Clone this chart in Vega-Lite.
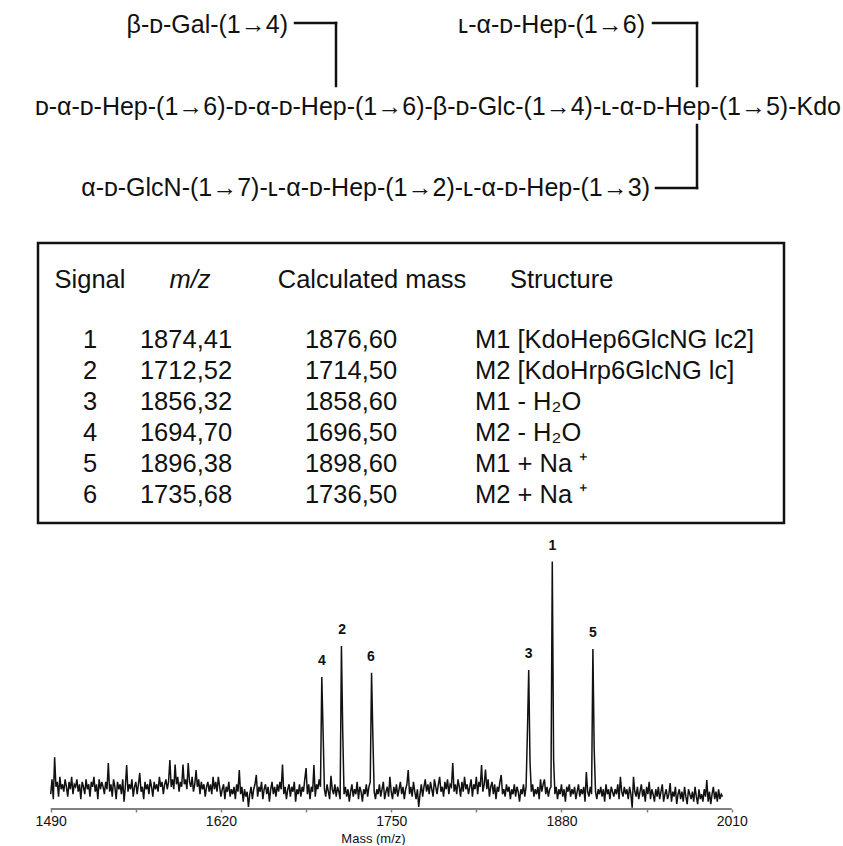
{
 "$schema": "https://vega.github.io/schema/vega-lite/v6.json",
 "padding": 0,
 "autosize": {"type": "pad"},
 "bounds": "flush",
 "spacing": 0,
 "background": "white",
 "config": {"view": {"stroke": null}, "text": {"font": "Liberation Sans", "color": "#111"}, "axis": {"labelFont": "Liberation Sans", "titleFont": "Liberation Sans"}},
 "datasets": {
  "one": [{}],
  "structure": [{"gal": "β-ᴅ-Gal-(1→4)", "hep": "ʟ-α-ᴅ-Hep-(1→6)", "main": "ᴅ-α-ᴅ-Hep-(1→6)-ᴅ-α-ᴅ-Hep-(1→6)-β-ᴅ-Glc-(1→4)-ʟ-α-ᴅ-Hep-(1→5)-Kdo", "glcn": "α-ᴅ-GlcN-(1→7)-ʟ-α-ᴅ-Hep-(1→2)-ʟ-α-ᴅ-Hep-(1→3)"}],
  "header": [{"c1": "Signal", "c2": "m/z", "c3": "Calculated mass", "c4": "Structure"}],
  "rows": [
   {"signal": 1, "mz": "1874,41", "mass": "1876,60", "structure": "M1 [KdoHep6GlcNG lc2]"},
   {"signal": 2, "mz": "1712,52", "mass": "1714,50", "structure": "M2 [KdoHrp6GlcNG lc]"},
   {"signal": 3, "mz": "1856,32", "mass": "1858,60", "structure": "M1  - H₂O"},
   {"signal": 4, "mz": "1694,70", "mass": "1696,50", "structure": "M2  - H₂O"},
   {"signal": 5, "mz": "1896,38", "mass": "1898,60", "structure": "M1 + Na ⁺"},
   {"signal": 6, "mz": "1735,68", "mass": "1736,50", "structure": "M2 + Na ⁺"}
  ],
  "peaks": [
   {"label": "1", "mz": 1873, "i": 100.2},
   {"label": "2", "mz": 1712.5, "i": 66},
   {"label": "3", "mz": 1855, "i": 56.3},
   {"label": "4", "mz": 1697, "i": 53.5},
   {"label": "5", "mz": 1904, "i": 64.8},
   {"label": "6", "mz": 1734.5, "i": 55.2}
  ],
  "baseline": [{"mz": 1490, "i": 0}, {"mz": 2010, "i": 0}],
  "spectrum": [
{"mz":1490,"i":6},{"mz":1491,"i":12},{"mz":1492,"i":4},{"mz":1493,"i":21},{"mz":1494,"i":9},{"mz":1495,"i":11},{"mz":1496,"i":5},{"mz":1497,"i":13},{"mz":1498,"i":8},{"mz":1499,"i":10},
{"mz":1500,"i":7},{"mz":1501,"i":12},{"mz":1502,"i":9},{"mz":1503,"i":5},{"mz":1504,"i":11},{"mz":1505,"i":8},{"mz":1506,"i":13},{"mz":1507,"i":6},{"mz":1508,"i":10},{"mz":1509,"i":9},
{"mz":1510,"i":12},{"mz":1511,"i":7},{"mz":1512,"i":10},{"mz":1513,"i":4},{"mz":1514,"i":11},{"mz":1515,"i":9},{"mz":1516,"i":6},{"mz":1517,"i":12},{"mz":1518,"i":8},{"mz":1519,"i":10},
{"mz":1520,"i":5},{"mz":1521,"i":11},{"mz":1522,"i":9},{"mz":1523,"i":13},{"mz":1524,"i":7},{"mz":1525,"i":10},{"mz":1526,"i":4},{"mz":1527,"i":12},{"mz":1528,"i":8},{"mz":1529,"i":11},
{"mz":1530,"i":9},{"mz":1531,"i":6},{"mz":1532,"i":11},{"mz":1533,"i":8},{"mz":1534,"i":18.6},{"mz":1535,"i":7},{"mz":1536,"i":10},{"mz":1537,"i":5},{"mz":1538,"i":12},{"mz":1539,"i":9},
{"mz":1540,"i":4},{"mz":1541,"i":11},{"mz":1542,"i":8},{"mz":1543,"i":10},{"mz":1544,"i":6},{"mz":1545,"i":12},{"mz":1546,"i":3},{"mz":1547,"i":9},{"mz":1548,"i":17.8},{"mz":1549,"i":7},
{"mz":1550,"i":10},{"mz":1551,"i":8},{"mz":1552,"i":12},{"mz":1553,"i":5},{"mz":1554,"i":9},{"mz":1555,"i":11},{"mz":1556,"i":6},{"mz":1557,"i":10},{"mz":1558,"i":14.6},{"mz":1559,"i":7},
{"mz":1560,"i":9},{"mz":1561,"i":4},{"mz":1562,"i":11},{"mz":1563,"i":8},{"mz":1564,"i":10},{"mz":1565,"i":6},{"mz":1566,"i":12},{"mz":1567,"i":9},{"mz":1568,"i":5},{"mz":1569,"i":11},
{"mz":1570,"i":8},{"mz":1571,"i":10},{"mz":1572,"i":7},{"mz":1573,"i":13},{"mz":1574,"i":9},{"mz":1575,"i":11},{"mz":1576,"i":6},{"mz":1577,"i":10},{"mz":1578,"i":12},{"mz":1579,"i":8},
{"mz":1580,"i":11},{"mz":1581,"i":19.8},{"mz":1582,"i":9},{"mz":1583,"i":12},{"mz":1584,"i":8},{"mz":1585,"i":18},{"mz":1586,"i":10},{"mz":1587,"i":13},{"mz":1588,"i":7},{"mz":1589,"i":11},
{"mz":1590,"i":9},{"mz":1591,"i":18},{"mz":1592,"i":10},{"mz":1593,"i":12},{"mz":1594,"i":8},{"mz":1595,"i":18.6},{"mz":1596,"i":11},{"mz":1597,"i":9},{"mz":1598,"i":13},{"mz":1599,"i":7},
{"mz":1600,"i":10},{"mz":1601,"i":15.8},{"mz":1602,"i":9},{"mz":1603,"i":12},{"mz":1604,"i":6},{"mz":1605,"i":11},{"mz":1606,"i":8},{"mz":1607,"i":10},{"mz":1608,"i":5},{"mz":1609,"i":9},
{"mz":1610,"i":11},{"mz":1611,"i":7},{"mz":1612,"i":10},{"mz":1613,"i":6},{"mz":1614,"i":13},{"mz":1615,"i":8},{"mz":1616,"i":11},{"mz":1617,"i":7},{"mz":1618,"i":13},{"mz":1619,"i":9},
{"mz":1620,"i":5},{"mz":1621,"i":8},{"mz":1622,"i":10},{"mz":1623,"i":4},{"mz":1624,"i":9},{"mz":1625,"i":7},{"mz":1626,"i":11},{"mz":1627,"i":5},{"mz":1628,"i":8},{"mz":1629,"i":6},
{"mz":1630,"i":9},{"mz":1631,"i":4},{"mz":1632,"i":10},{"mz":1633,"i":7},{"mz":1634,"i":15.8},{"mz":1635,"i":6},{"mz":1636,"i":9},{"mz":1637,"i":3},{"mz":1638,"i":8},{"mz":1639,"i":5},
{"mz":1640,"i":7},{"mz":1641,"i":0.8},{"mz":1642,"i":6},{"mz":1643,"i":9},{"mz":1644,"i":4},{"mz":1645,"i":8},{"mz":1646,"i":10},{"mz":1647,"i":13.8},{"mz":1648,"i":5},{"mz":1649,"i":9},
{"mz":1650,"i":7},{"mz":1651,"i":11},{"mz":1652,"i":4},{"mz":1653,"i":8},{"mz":1654,"i":10},{"mz":1655,"i":6},{"mz":1656,"i":9},{"mz":1657,"i":3},{"mz":1658,"i":8},{"mz":1659,"i":11},
{"mz":1660,"i":6},{"mz":1661,"i":9},{"mz":1662,"i":5},{"mz":1663,"i":10},{"mz":1664,"i":7},{"mz":1665,"i":11},{"mz":1666,"i":8},{"mz":1667,"i":18},{"mz":1668,"i":6},{"mz":1669,"i":9},
{"mz":1670,"i":4},{"mz":1671,"i":8},{"mz":1672,"i":10},{"mz":1673,"i":5},{"mz":1674,"i":9},{"mz":1675,"i":7},{"mz":1676,"i":11},{"mz":1677,"i":3},{"mz":1678,"i":8},{"mz":1679,"i":6},
{"mz":1680,"i":10},{"mz":1681,"i":5},{"mz":1682,"i":9},{"mz":1683,"i":7},{"mz":1684,"i":12},{"mz":1685,"i":16.6},{"mz":1686,"i":6},{"mz":1687,"i":10},{"mz":1688,"i":4},{"mz":1689,"i":9},
{"mz":1690,"i":7},{"mz":1691,"i":17.8},{"mz":1692,"i":5},{"mz":1693,"i":10},{"mz":1694,"i":8},{"mz":1695,"i":12},{"mz":1696,"i":9},{"mz":1697,"i":53.5},{"mz":1698,"i":31},{"mz":1699,"i":8},
{"mz":1700,"i":5},{"mz":1701,"i":10},{"mz":1702,"i":7},{"mz":1703,"i":4},{"mz":1704,"i":13.4},{"mz":1705,"i":8},{"mz":1706,"i":6},{"mz":1707,"i":10},{"mz":1708,"i":5},{"mz":1709,"i":9},
{"mz":1710,"i":7},{"mz":1711,"i":4},{"mz":1712,"i":66},{"mz":1713,"i":31},{"mz":1714,"i":6},{"mz":1715,"i":9},{"mz":1716,"i":5},{"mz":1717,"i":8},{"mz":1718,"i":3},{"mz":1719,"i":7},
{"mz":1720,"i":10},{"mz":1721,"i":5},{"mz":1722,"i":8},{"mz":1723,"i":6},{"mz":1724,"i":11},{"mz":1725,"i":4},{"mz":1726,"i":9},{"mz":1727,"i":7},{"mz":1728,"i":3},{"mz":1729,"i":8},
{"mz":1730,"i":6},{"mz":1731,"i":10},{"mz":1732,"i":5},{"mz":1733,"i":9},{"mz":1734,"i":11},{"mz":1735,"i":55.2},{"mz":1736,"i":29.5},{"mz":1737,"i":7},{"mz":1738,"i":4},{"mz":1739,"i":8},
{"mz":1740,"i":6},{"mz":1741,"i":10},{"mz":1742,"i":5},{"mz":1743,"i":8},{"mz":1744,"i":11},{"mz":1745,"i":4},{"mz":1746,"i":7},{"mz":1747,"i":9},{"mz":1748,"i":5},{"mz":1749,"i":13},
{"mz":1750,"i":7},{"mz":1751,"i":4},{"mz":1752,"i":9},{"mz":1753,"i":6},{"mz":1754,"i":10},{"mz":1755,"i":5},{"mz":1756,"i":8},{"mz":1757,"i":11},{"mz":1758,"i":6},{"mz":1759,"i":9},
{"mz":1760,"i":4},{"mz":1761,"i":8},{"mz":1762,"i":10},{"mz":1763,"i":15.8},{"mz":1764,"i":6},{"mz":1765,"i":9},{"mz":1766,"i":5},{"mz":1767,"i":11},{"mz":1768,"i":7},{"mz":1769,"i":4},
{"mz":1770,"i":8},{"mz":1771,"i":0.8},{"mz":1772,"i":6},{"mz":1773,"i":10},{"mz":1774,"i":5},{"mz":1775,"i":9},{"mz":1776,"i":12},{"mz":1777,"i":7},{"mz":1778,"i":10},{"mz":1779,"i":6},
{"mz":1780,"i":11},{"mz":1781,"i":8},{"mz":1782,"i":5},{"mz":1783,"i":12},{"mz":1784,"i":9},{"mz":1785,"i":6},{"mz":1786,"i":10},{"mz":1787,"i":13},{"mz":1788,"i":7},{"mz":1789,"i":9},
{"mz":1790,"i":5},{"mz":1791,"i":11},{"mz":1792,"i":8},{"mz":1793,"i":12},{"mz":1794,"i":6},{"mz":1795,"i":10},{"mz":1796,"i":9},{"mz":1797,"i":18.6},{"mz":1798,"i":7},{"mz":1799,"i":10},
{"mz":1800,"i":6},{"mz":1801,"i":12},{"mz":1802,"i":9},{"mz":1803,"i":5},{"mz":1804,"i":11},{"mz":1805,"i":7},{"mz":1806,"i":13},{"mz":1807,"i":8},{"mz":1808,"i":10},{"mz":1809,"i":6},
{"mz":1810,"i":9},{"mz":1811,"i":12},{"mz":1812,"i":5},{"mz":1813,"i":10},{"mz":1814,"i":8},{"mz":1815,"i":13},{"mz":1816,"i":6},{"mz":1817,"i":11},{"mz":1818,"i":9},{"mz":1819,"i":17.8},
{"mz":1820,"i":7},{"mz":1821,"i":10},{"mz":1822,"i":16},{"mz":1823,"i":8},{"mz":1824,"i":12},{"mz":1825,"i":5},{"mz":1826,"i":9},{"mz":1827,"i":11},{"mz":1828,"i":6},{"mz":1829,"i":10},
{"mz":1830,"i":4},{"mz":1831,"i":9},{"mz":1832,"i":7},{"mz":1833,"i":11},{"mz":1834,"i":13.8},{"mz":1835,"i":6},{"mz":1836,"i":8},{"mz":1837,"i":5},{"mz":1838,"i":10},{"mz":1839,"i":7},
{"mz":1840,"i":9},{"mz":1841,"i":4},{"mz":1842,"i":8},{"mz":1843,"i":6},{"mz":1844,"i":10},{"mz":1845,"i":5},{"mz":1846,"i":9},{"mz":1847,"i":7},{"mz":1848,"i":3},{"mz":1849,"i":8},
{"mz":1850,"i":6},{"mz":1851,"i":10},{"mz":1852,"i":5},{"mz":1853,"i":9},{"mz":1854,"i":31},{"mz":1855,"i":56.3},{"mz":1856,"i":19},{"mz":1857,"i":7},{"mz":1858,"i":10},{"mz":1859,"i":5},
{"mz":1860,"i":8},{"mz":1861,"i":6},{"mz":1862,"i":9},{"mz":1863,"i":4},{"mz":1864,"i":12},{"mz":1865,"i":7},{"mz":1866,"i":10},{"mz":1867,"i":12},{"mz":1868,"i":6},{"mz":1869,"i":9},
{"mz":1870,"i":5},{"mz":1871,"i":8},{"mz":1872,"i":9},{"mz":1873,"i":100.2},{"mz":1874,"i":20},{"mz":1875,"i":6},{"mz":1876,"i":9},{"mz":1877,"i":4},{"mz":1878,"i":8},{"mz":1879,"i":6},
{"mz":1880,"i":10},{"mz":1881,"i":5},{"mz":1882,"i":8},{"mz":1883,"i":3},{"mz":1884,"i":9},{"mz":1885,"i":7},{"mz":1886,"i":10},{"mz":1887,"i":5},{"mz":1888,"i":8},{"mz":1889,"i":6},
{"mz":1890,"i":9},{"mz":1891,"i":4},{"mz":1892,"i":7},{"mz":1893,"i":10},{"mz":1894,"i":5},{"mz":1895,"i":8},{"mz":1896,"i":6},{"mz":1897,"i":9},{"mz":1898,"i":3},{"mz":1899,"i":15},
{"mz":1900,"i":7},{"mz":1901,"i":5},{"mz":1902,"i":9},{"mz":1903,"i":6},{"mz":1904,"i":64.8},{"mz":1905,"i":24},{"mz":1906,"i":7},{"mz":1907,"i":4},{"mz":1908,"i":8},{"mz":1909,"i":6},
{"mz":1910,"i":9},{"mz":1911,"i":5},{"mz":1912,"i":8},{"mz":1913,"i":3},{"mz":1914,"i":10},{"mz":1915,"i":6},{"mz":1916,"i":8},{"mz":1917,"i":4},{"mz":1918,"i":9},{"mz":1919,"i":7},
{"mz":1920,"i":5},{"mz":1921,"i":8},{"mz":1922,"i":6},{"mz":1923,"i":10},{"mz":1924,"i":4},{"mz":1925,"i":13},{"mz":1926,"i":7},{"mz":1927,"i":5},{"mz":1928,"i":9},{"mz":1929,"i":6},
{"mz":1930,"i":8},{"mz":1931,"i":4},{"mz":1932,"i":9},{"mz":1933,"i":6},{"mz":1934,"i":0.5},{"mz":1935,"i":13},{"mz":1936,"i":7},{"mz":1937,"i":5},{"mz":1938,"i":9},{"mz":1939,"i":4},
{"mz":1940,"i":7},{"mz":1941,"i":10},{"mz":1942,"i":5},{"mz":1943,"i":8},{"mz":1944,"i":3},{"mz":1945,"i":9},{"mz":1946,"i":6},{"mz":1947,"i":11},{"mz":1948,"i":4},{"mz":1949,"i":8},
{"mz":1950,"i":6},{"mz":1951,"i":3},{"mz":1952,"i":8},{"mz":1953,"i":5},{"mz":1954,"i":9},{"mz":1955,"i":4},{"mz":1956,"i":7},{"mz":1957,"i":10},{"mz":1958,"i":3},{"mz":1959,"i":6},
{"mz":1960,"i":8},{"mz":1961,"i":4},{"mz":1962,"i":6},{"mz":1963,"i":10.5},{"mz":1964,"i":3},{"mz":1965,"i":7},{"mz":1966,"i":5},{"mz":1967,"i":9},{"mz":1968,"i":2},{"mz":1969,"i":6},
{"mz":1970,"i":8},{"mz":1971,"i":4},{"mz":1972,"i":7},{"mz":1973,"i":3},{"mz":1974,"i":9},{"mz":1975,"i":5},{"mz":1976,"i":2},{"mz":1977,"i":8},{"mz":1978,"i":6},{"mz":1979,"i":4},
{"mz":1980,"i":7},{"mz":1981,"i":3},{"mz":1982,"i":9},{"mz":1983,"i":5},{"mz":1984,"i":2},{"mz":1985,"i":8},{"mz":1986,"i":4},{"mz":1987,"i":6},{"mz":1988,"i":3},{"mz":1989,"i":8},
{"mz":1990,"i":5},{"mz":1991,"i":11.7},{"mz":1992,"i":3},{"mz":1993,"i":7},{"mz":1994,"i":2},{"mz":1995,"i":6},{"mz":1996,"i":9},{"mz":1997,"i":4},{"mz":1998,"i":7},{"mz":1999,"i":3},
{"mz":2000,"i":8},{"mz":2001,"i":4},{"mz":2002,"i":6},{"mz":2003,"i":5}
  ]
 },
 "vconcat": [
  {
   "width": 843, "height": 215,
   "data": {"name": "structure"},
   "layer": [
    {"mark": {"type": "text", "align": "right", "baseline": "middle", "fontSize": 25},
     "encoding": {"text": {"field": "gal"}, "x": {"datum": 288, "type": "quantitative", "scale": {"domain": [0, 843], "nice": false, "zero": false}, "axis": null}, "y": {"datum": 25, "type": "quantitative", "scale": {"domain": [0, 215], "nice": false, "zero": false, "reverse": true}, "axis": null}}},
    {"mark": {"type": "text", "align": "right", "baseline": "middle", "fontSize": 25},
     "encoding": {"text": {"field": "hep"}, "x": {"datum": 645, "type": "quantitative"}, "y": {"datum": 25, "type": "quantitative"}}},
    {"mark": {"type": "text", "align": "right", "baseline": "middle", "fontSize": 25},
     "encoding": {"text": {"field": "main"}, "x": {"datum": 841, "type": "quantitative"}, "y": {"datum": 107, "type": "quantitative"}}},
    {"mark": {"type": "text", "align": "right", "baseline": "middle", "fontSize": 25},
     "encoding": {"text": {"field": "glcn"}, "x": {"datum": 650, "type": "quantitative"}, "y": {"datum": 188, "type": "quantitative"}}},
    {"mark": {"type": "rule", "color": "#111", "strokeWidth": 2.5, "strokeCap": "square"},
     "encoding": {"x": {"datum": 295, "type": "quantitative"}, "x2": {"datum": 336}, "y": {"datum": 23, "type": "quantitative"}}},
    {"mark": {"type": "rule", "color": "#111", "strokeWidth": 2.5, "strokeCap": "square"},
     "encoding": {"x": {"datum": 336, "type": "quantitative"}, "y": {"datum": 23, "type": "quantitative"}, "y2": {"datum": 86}}},
    {"mark": {"type": "rule", "color": "#111", "strokeWidth": 2.5, "strokeCap": "square"},
     "encoding": {"x": {"datum": 653, "type": "quantitative"}, "x2": {"datum": 697}, "y": {"datum": 23, "type": "quantitative"}}},
    {"mark": {"type": "rule", "color": "#111", "strokeWidth": 2.5, "strokeCap": "square"},
     "encoding": {"x": {"datum": 697, "type": "quantitative"}, "y": {"datum": 23, "type": "quantitative"}, "y2": {"datum": 86}}},
    {"mark": {"type": "rule", "color": "#111", "strokeWidth": 2.5, "strokeCap": "square"},
     "encoding": {"x": {"datum": 697, "type": "quantitative"}, "y": {"datum": 125, "type": "quantitative"}, "y2": {"datum": 188}}},
    {"mark": {"type": "rule", "color": "#111", "strokeWidth": 2.5, "strokeCap": "square"},
     "encoding": {"x": {"datum": 656, "type": "quantitative"}, "x2": {"datum": 697}, "y": {"datum": 188, "type": "quantitative"}}}
   ]
  },
  {
   "width": 843, "height": 315,
   "layer": [
    {"data": {"name": "one"},
     "mark": {"type": "rect", "fill": null, "stroke": "#111", "strokeWidth": 2.5},
     "encoding": {"x": {"datum": 38, "type": "quantitative", "scale": {"domain": [0, 843], "nice": false, "zero": false}, "axis": null}, "x2": {"datum": 784}, "y": {"datum": -2.129, "type": "quantitative", "scale": {"domain": [-3.032, 7.129], "nice": false, "zero": false, "reverse": true}, "axis": null}, "y2": {"datum": 6.903}}},
    {"data": {"name": "header"},
     "mark": {"type": "text", "align": "center", "baseline": "middle", "fontSize": 25.5},
     "encoding": {"text": {"field": "c1"}, "x": {"datum": 90, "type": "quantitative"}, "y": {"datum": -0.935, "type": "quantitative"}}},
    {"data": {"name": "header"},
     "mark": {"type": "text", "align": "center", "baseline": "middle", "fontSize": 25.5, "fontStyle": "italic"},
     "encoding": {"text": {"field": "c2"}, "x": {"datum": 190, "type": "quantitative"}, "y": {"datum": -0.935, "type": "quantitative"}}},
    {"data": {"name": "header"},
     "mark": {"type": "text", "align": "center", "baseline": "middle", "fontSize": 25.5},
     "encoding": {"text": {"field": "c3"}, "x": {"datum": 372, "type": "quantitative"}, "y": {"datum": -0.935, "type": "quantitative"}}},
    {"data": {"name": "header"},
     "mark": {"type": "text", "align": "left", "baseline": "middle", "fontSize": 25.5},
     "encoding": {"text": {"field": "c4"}, "x": {"datum": 510, "type": "quantitative"}, "y": {"datum": -0.935, "type": "quantitative"}}},
    {"data": {"name": "rows"},
     "mark": {"type": "text", "align": "center", "baseline": "middle", "fontSize": 25.5},
     "encoding": {"text": {"field": "signal"}, "x": {"datum": 90, "type": "quantitative"}, "y": {"field": "signal", "type": "quantitative"}}},
    {"data": {"name": "rows"},
     "mark": {"type": "text", "align": "center", "baseline": "middle", "fontSize": 25.5},
     "encoding": {"text": {"field": "mz"}, "x": {"datum": 186, "type": "quantitative"}, "y": {"field": "signal", "type": "quantitative"}}},
    {"data": {"name": "rows"},
     "mark": {"type": "text", "align": "center", "baseline": "middle", "fontSize": 25.5},
     "encoding": {"text": {"field": "mass"}, "x": {"datum": 351, "type": "quantitative"}, "y": {"field": "signal", "type": "quantitative"}}},
    {"data": {"name": "rows"},
     "mark": {"type": "text", "align": "left", "baseline": "middle", "fontSize": 25.5},
     "encoding": {"text": {"field": "structure"}, "x": {"datum": 475, "type": "quantitative"}, "y": {"field": "signal", "type": "quantitative"}}}
   ]
  },
  {
   "width": 843, "height": 279,
   "layer": [
    {"data": {"name": "spectrum"},
     "mark": {"type": "line", "color": "#111", "strokeWidth": 1.5},
     "encoding": {
      "x": {"field": "mz", "type": "quantitative", "scale": {"domain": [1451.287, 2094.98], "nice": false, "zero": false},
            "axis": {"values": [1490, 1555, 1620, 1685, 1750, 1815, 1880, 1945, 2010], "format": "d",
                     "labelExpr": "(datum.value - 1490) % 130 === 0 ? datum.label : ''",
                     "labelOverlap": false, "labelFlush": false, "grid": false, "domain": false,
                     "tickColor": "#808080", "tickSize": 3, "tickWidth": 1.5,
                     "labelFontSize": 14, "labelColor": "#111", "labelPadding": 2,
                     "title": "Mass (m/z)", "titleFontSize": 13, "titleFontWeight": "normal", "titleColor": "#111",
                     "titleX": 373, "titleY": 33, "titleBaseline": "alphabetic"}},
      "y": {"field": "i", "type": "quantitative", "scale": {"domain": [0, 113], "nice": false, "zero": false}, "axis": null}
     }},
    {"data": {"name": "baseline"},
     "mark": {"type": "line", "color": "#808080", "strokeWidth": 2},
     "encoding": {"x": {"field": "mz", "type": "quantitative"}, "y": {"field": "i", "type": "quantitative"}}},
    {"data": {"name": "peaks"},
     "mark": {"type": "text", "fontWeight": "bold", "fontSize": 14, "dy": -16, "baseline": "middle", "align": "center"},
     "encoding": {
      "x": {"field": "mz", "type": "quantitative"},
      "y": {"field": "i", "type": "quantitative"},
      "text": {"field": "label"}
     }}
   ]
  }
 ]
}
